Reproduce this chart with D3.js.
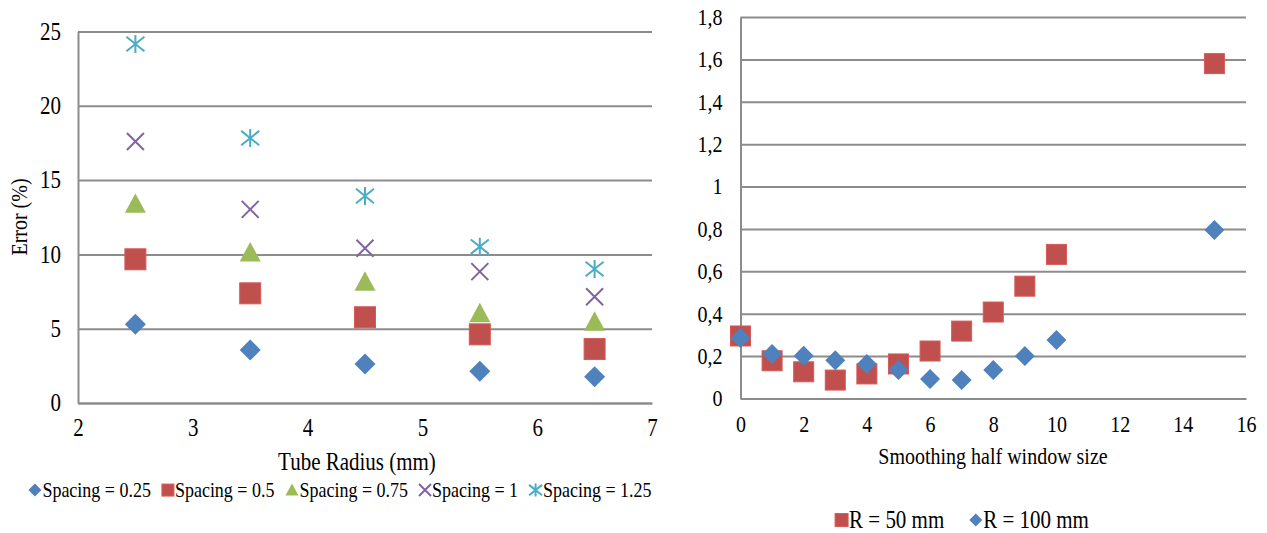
<!DOCTYPE html>
<html>
<head>
<meta charset="utf-8">
<script src="https://cdn.jsdelivr.net/npm/d3@7"></script>
<style>
body { margin: 0; background: #fff; }
svg text { font-family: "Liberation Serif", "Times New Roman", serif; fill: #000; }
.tall { transform-box: fill-box; transform-origin: center; transform: scaleY(1.15); }
</style>
</head>
<body>
<svg id="chart" width="1267" height="533"></svg>
<script>
// left chart: error vs tube radius
const radii = [2.5, 3.5, 4.5, 5.5, 6.5];
const spacing025 = [5.3, 3.57, 2.62, 2.13, 1.77];
const spacing05 = [9.67, 7.38, 5.77, 4.62, 3.63];
const spacing075 = [13.4, 10.13, 8.16, 6.04, 5.47];
const spacing1 = [17.6, 13.03, 10.41, 8.84, 7.15];
const spacing125 = [24.16, 17.83, 13.93, 10.52, 9.02];
const leftNames = ['Spacing = 0.25', 'Spacing = 0.5', 'Spacing = 0.75', 'Spacing = 1', 'Spacing = 1.25'];
const leftXTicks = [2, 3, 4, 5, 6, 7];
const leftYTicks = [0, 5, 10, 15, 20, 25];

// right chart: error vs smoothing half window
const halfWindow = [0, 1, 2, 3, 4, 5, 6, 7, 8, 9, 10, 15];
const r50 = [0.295, 0.178, 0.126, 0.087, 0.116, 0.163, 0.224, 0.318, 0.408, 0.53, 0.68, 1.58];
const r100 = [0.285, 0.21, 0.202, 0.181, 0.163, 0.135, 0.092, 0.087, 0.134, 0.2, 0.276, 0.795];
const rightNames = ['R = 50 mm', 'R = 100 mm'];
const rightXTicks = [0, 2, 4, 6, 8, 10, 12, 14, 16];
const rightYTicks = [0, 0.2, 0.4, 0.6, 0.8, 1, 1.2, 1.4, 1.6, 1.8];

const colors = {
  blue: '#4f81bd', red: '#c0504d', green: '#9bbb59', purple: '#8064a2', cyan: '#4bacc6',
};
const gridColor = '#8c8c8c';

const svg = d3.select('#chart');
const comma = d3.formatLocale({ decimal: ',', thousands: '.', grouping: [3], currency: ['', ''] }).format('~g');

// marker drawing, centred on 0,0
function marker(g, shape, r, color) {
  if (shape === 'diamond') {
    g.append('path').attr('d', `M0,${-r}L${r},0L0,${r}L${-r},0Z`).attr('fill', color);
  } else if (shape === 'square') {
    g.append('rect').attr('x', -r).attr('y', -r).attr('width', 2 * r).attr('height', 2 * r)
      .attr('fill', color).attr('stroke', d3.color(color).brighter(0.3)).attr('stroke-width', 1);
  } else if (shape === 'triangle') {
    g.append('path').attr('d', `M0,${-r}L${r},${r * 0.85}L${-r},${r * 0.85}Z`).attr('fill', color);
  } else if (shape === 'x') {
    g.append('path').attr('d', `M${-r},${-r}L${r},${r}M${-r},${r}L${r},${-r}`)
      .attr('stroke', color).attr('stroke-width', 2).attr('fill', 'none');
  } else if (shape === 'star') {
    g.append('path').attr('d', `M${-r},${-r * 0.8}L${r},${r * 0.8}M${-r},${r * 0.8}L${r},${-r * 0.8}M0,${-r}V${r}`)
      .attr('stroke', color).attr('stroke-width', 2).attr('fill', 'none');
  }
}

function panel(opts) {
  const { x, y, xTicks, yTicks, xFormat, yFormat, fontSize, pad } = opts;
  const g = svg.append('g');
  const [x0, x1] = x.range();

  g.append('g')
    .attr('transform', `translate(${x0},0)`)
    .call(d3.axisLeft(y).tickValues(yTicks).tickFormat(yFormat).tickSize(-(x1 - x0)).tickSizeOuter(0).tickPadding(pad))
    .call(a => a.selectAll('line,path').attr('stroke', gridColor).attr('stroke-width', 2))
    .call(a => a.selectAll('text').attr('class', 'tall').style('font-size', `${fontSize}px`));

  g.append('g')
    .attr('transform', `translate(0,${y.range()[0]})`)
    .call(d3.axisBottom(x).tickValues(xTicks).tickFormat(xFormat).tickSize(0).tickPadding(pad))
    .call(a => a.select('.domain').attr('stroke', gridColor).attr('stroke-width', 2))
    .call(a => a.selectAll('text').attr('class', 'tall').style('font-size', `${fontSize}px`));
  return g;
}

function points(g, x, y, xs, ys, shape, r, color) {
  g.append('g').selectAll('g')
    .data(xs.map((v, i) => [v, ys[i]]))
    .join('g')
    .attr('transform', d => `translate(${x(d[0])},${y(d[1])})`)
    .each(function () { marker(d3.select(this), shape, r, color); });
}

function legend(items, cx, baseline, fontSize, gap) {
  const lg = svg.append('g');
  let cursor = 0;
  items.forEach((it) => {
    const m = lg.append('g').attr('transform', `translate(${cursor + it.r},${baseline - fontSize * 0.33})`);
    marker(m, it.shape, it.r, it.color);
    const t = lg.append('text').attr('class', 'tall')
      .attr('x', cursor + 2 * it.r + 1).attr('y', baseline)
      .style('font-size', `${fontSize}px`).text(it.name);
    cursor += 2 * it.r + 1 + t.node().getComputedTextLength() + gap;
  });
  cursor -= gap;
  lg.attr('transform', `translate(${cx - cursor / 2},0)`);
}

// ---- left panel
const xL = d3.scaleLinear().domain([2, 7]).range([78, 652]);
const yL = d3.scaleLinear().domain([0, 25]).range([403, 31.5]);
const gL = panel({
  x: xL, y: yL, xTicks: leftXTicks, yTicks: leftYTicks, xFormat: d3.format('d'), yFormat: d3.format('d'), fontSize: 21, pad: 17,
});

const leftSeries = [
  { ys: spacing025, shape: 'diamond', r: 10.5, color: colors.blue, lr: 6.5 },
  { ys: spacing05, shape: 'square', r: 10.5, color: colors.red, lr: 6 },
  { ys: spacing075, shape: 'triangle', r: 10.5, color: colors.green, lr: 6.5 },
  { ys: spacing1, shape: 'x', r: 8.5, color: colors.purple, lr: 6 },
  { ys: spacing125, shape: 'star', r: 9, color: colors.cyan, lr: 6.5 },
];
leftSeries.forEach(s => points(gL, xL, yL, radii, s.ys, s.shape, s.r, s.color));

svg.append('text').attr('class', 'tall').attr('x', 357).attr('y', 469)
  .attr('text-anchor', 'middle').style('font-size', '21px').text('Tube Radius (mm)');
svg.append('text').attr('transform', 'translate(20,217) rotate(-90) scale(1,1.15)')
  .attr('text-anchor', 'middle').attr('dy', '0.3em').style('font-size', '20px').text('Error (%)');

legend(leftSeries.map((s, i) => ({ name: leftNames[i], shape: s.shape, r: s.lr, color: s.color })),
  340, 496, 18, 11);

// ---- right panel
const xR = d3.scaleLinear().domain([0, 16]).range([740.5, 1246]);
const yR = d3.scaleLinear().domain([0, 1.8]).range([398.5, 17]);
const gR = panel({
  x: xR, y: yR, xTicks: rightXTicks, yTicks: rightYTicks, xFormat: d3.format('d'), yFormat: comma, fontSize: 20, pad: 18,
});

points(gR, xR, yR, halfWindow, r50, 'square', 10, colors.red);
points(gR, xR, yR, halfWindow, r100, 'diamond', 10, colors.blue);

svg.append('text').attr('class', 'tall').attr('x', 993).attr('y', 463)
  .attr('text-anchor', 'middle').style('font-size', '20px').text('Smoothing half window size');

legend([
  { name: rightNames[0], shape: 'square', r: 6.5, color: colors.red },
  { name: rightNames[1], shape: 'diamond', r: 6.5, color: colors.blue },
], 962, 527, 21, 25);
</script>
</body>
</html>
